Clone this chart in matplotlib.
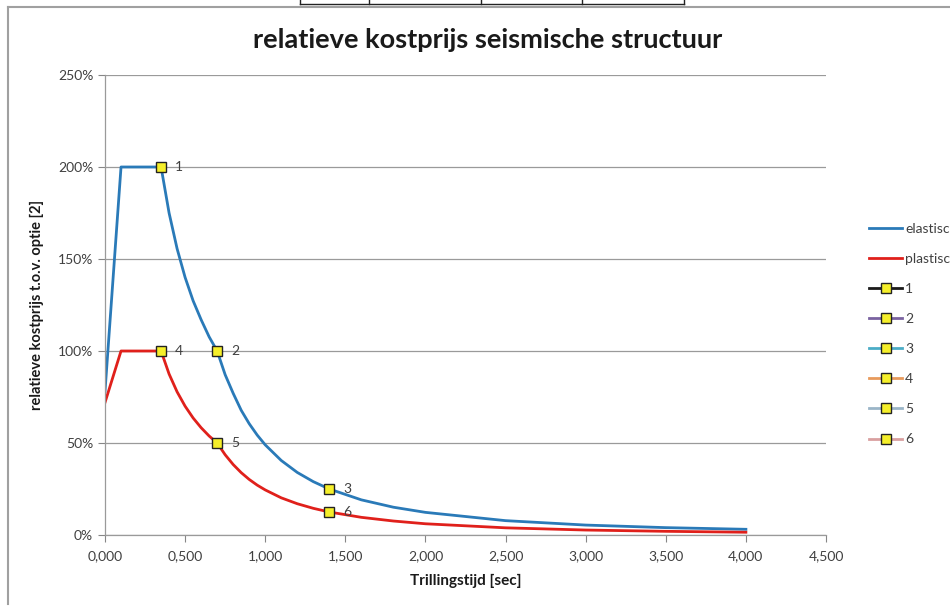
import matplotlib
matplotlib.use("Agg")
import matplotlib.pyplot as plt
from matplotlib.lines import Line2D

plt.rcParams['font.family'] = ['Lato', 'DejaVu Sans']

# ---- data ----
t_values = [0.0, 0.1, 0.35, 0.4, 0.45, 0.5, 0.55, 0.6, 0.65, 0.7, 0.75, 0.8,
            0.85, 0.9, 0.95, 1.0, 1.1, 1.2, 1.3, 1.4, 1.6, 1.8, 2.0, 2.5,
            3.0, 3.5, 4.0]
elastisch = [78, 200, 200, 175, 155.6, 140, 127.3, 117, 107.7, 100, 87.1, 77,
             67.8, 60.5, 54.3, 49, 40.5, 34, 29.0, 25, 19.1, 15.1, 12.3, 7.8,
             5.4, 4.0, 3.1]
plastisch = [72, 100, 100, 87.5, 77.8, 70, 63.6, 58.3, 53.8, 50, 43.6, 38.3,
             33.9, 30.2, 27.1, 24.5, 20.2, 17, 14.5, 12.5, 9.6, 7.6, 6.1, 3.9,
             2.7, 2.0, 1.5]
point_labels = ['1', '2', '3', '4', '5', '6']
point_x = [0.35, 0.7, 1.4, 0.35, 0.7, 1.4]
point_y = [200, 100, 25, 100, 50, 12.5]
point_colors = ['#1a1a1a', '#7a62a0', '#4bacc6', '#e89a5c', '#9ab5c8', '#d9a0a0']
series_names = ['elastisc', 'plastisc']
x_ticks = [0, 0.5, 1.0, 1.5, 2.0, 2.5, 3.0, 3.5, 4.0, 4.5]
y_ticks = [0, 50, 100, 150, 200, 250]

fig = plt.figure(figsize=(9.5, 6.06), dpi=100)
ax = fig.add_axes([105/950, 1-535/606, (826-105)/950, (535-75)/606])

handles = []
h1, = ax.plot(t_values, elastisch, color='#2a7ab8', lw=2.0, label=series_names[0])
h2, = ax.plot(t_values, plastisch, color='#e0201b', lw=2.0, label=series_names[1])
handles += [h1, h2]
for lab, px, py, c in zip(point_labels, point_x, point_y, point_colors):
    ax.plot([px], [py], ls='none', marker='s', ms=7, mfc='#f5ef2a',
            mec='#222222', mew=1.0, zorder=5)
    ax.annotate(lab, (px, py), xytext=(10, 0), textcoords='offset points',
                va='center', ha='left', fontsize=10, color='#404040')
    handles.append(Line2D([], [], color=c, lw=2.0, marker='s', ms=7,
                          mfc='#f5ef2a', mec='#222222', mew=1.0, label=lab))

ax.set_xlim(0, 4.5)
ax.set_ylim(0, 250)
ax.set_xticks(x_ticks)
ax.set_xticklabels([f"{v:.3f}".replace('.', ',') for v in x_ticks])
ax.set_yticks(y_ticks)
ax.set_yticklabels([f"{v}%" for v in y_ticks])
ax.tick_params(axis='both', colors='#868686', labelcolor='#404040',
               labelsize=10, length=5, width=0.8, direction='out')
ax.tick_params(axis='x', pad=6)
ax.grid(axis='y', color='#9a9a9a', lw=0.9)
ax.set_axisbelow(True)
for s in ['top', 'right']:
    ax.spines[s].set_visible(False)
for s in ['left', 'bottom']:
    ax.spines[s].set_color('#9a9a9a')
    ax.spines[s].set_linewidth(0.9)

ax.set_xlabel('Trillingstijd [sec]', fontsize=11, fontweight='bold',
              color='#1a1a1a', labelpad=8)
ax.set_ylabel('relatieve kostprijs t.o.v. optie [2]', fontsize=10.5,
              fontweight='bold', color='#1a1a1a', labelpad=10)
fig.text(0.513, 1-40/606, 'relatieve kostprijs seismische structuur',
         ha='center', va='center', fontsize=19.5, fontweight='bold', color='#1a1a1a')

fig.legend(handles=handles, loc='upper left',
           bbox_to_anchor=(869/950, 1-223/606), frameon=False, fontsize=10,
           handlelength=2.4, handletextpad=0.2, labelspacing=1.3,
           borderpad=0, borderaxespad=0, labelcolor='#404040')

# chart-area frame and table fragment at the top
fig.add_artist(Line2D([8/950, 1], [1-7/606, 1-7/606], color='#a0a0a0', lw=1.5))
fig.add_artist(Line2D([8/950, 8/950], [1-7/606, 1-604/606], color='#a0a0a0', lw=1.5))
fig.add_artist(Line2D([300/950, 684/950], [1-4/606, 1-4/606], color='#222222', lw=1.0))
for xv in [300, 369, 481, 582, 684]:
    fig.add_artist(Line2D([xv/950, xv/950], [1-4/606, 1.0], color='#222222', lw=1.0))

fig.savefig('out.png', dpi=100)
